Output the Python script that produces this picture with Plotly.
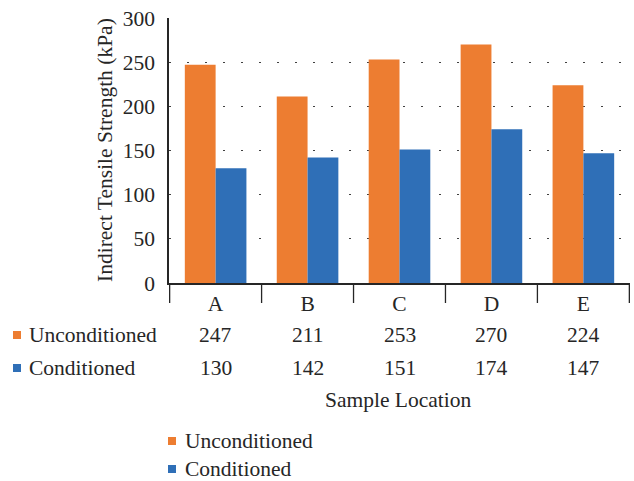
import plotly.graph_objects as go

# Indirect tensile strength by sample location
locations = ["A", "B", "C", "D", "E"]
unconditioned = [247, 211, 253, 270, 224]
conditioned = [130, 142, 151, 174, 147]
series_names = ["Unconditioned", "Conditioned"]
series_colors = ["#ED7D31", "#2F6FB7"]
y_ticks = [0, 50, 100, 150, 200, 250, 300]

FONT = "'Liberation Serif', 'Times New Roman', 'DejaVu Serif', serif"
TXT = "#262626"
FS = 21.5

W, H = 634, 481
L, R, T, B = 169, 4, 18, 198
pw, ph = W - L - R, H - T - B


def px_x(p):
    return (p - L) / pw


def px_y(p):
    return (H - B - p) / ph


fig = go.Figure()
for name, vals, col in zip(series_names, [unconditioned, conditioned], series_colors):
    fig.add_trace(go.Bar(x=locations, y=vals, name=name, marker_color=col,
                         marker_line_width=0, showlegend=False))

shapes = []
annotations = []

# category boundary ticks below the axis
for i in range(len(locations) + 1):
    shapes.append(dict(type="line", xref="x", yref="paper",
                       x0=i - 0.5, x1=i - 0.5, y0=0, y1=px_y(303),
                       line=dict(color=TXT, width=1.3)))

# data table rows
row_y = [335, 368]
for name, vals, col, ry in zip(series_names, [unconditioned, conditioned], series_colors, row_y):
    shapes.append(dict(type="rect", xref="paper", yref="paper",
                       x0=px_x(13), x1=px_x(21), y0=px_y(ry + 4), y1=px_y(ry - 4),
                       fillcolor=col, line_width=0))
    annotations.append(dict(text=name, xref="paper", yref="paper", x=px_x(27), y=px_y(ry),
                            xanchor="left", yanchor="middle", showarrow=False))
    for loc, v in zip(locations, vals):
        annotations.append(dict(text=str(v), xref="x", yref="paper", x=loc, y=px_y(ry),
                                xanchor="center", yanchor="middle", showarrow=False))

# axis titles
annotations.append(dict(text="Sample Location", xref="paper", yref="paper",
                        x=px_x(398), y=px_y(400), xanchor="center", yanchor="middle",
                        showarrow=False))
annotations.append(dict(text="Indirect Tensile Strength (kPa)", xref="paper", yref="paper",
                        x=px_x(105), y=px_y(150), xanchor="center", yanchor="middle",
                        textangle=-90, showarrow=False))

# legend below the chart
leg_y = [441, 469]
for name, col, ly in zip(series_names, series_colors, leg_y):
    shapes.append(dict(type="rect", xref="paper", yref="paper",
                       x0=px_x(168), x1=px_x(176), y0=px_y(ly + 4), y1=px_y(ly - 4),
                       fillcolor=col, line_width=0))
    annotations.append(dict(text=name, xref="paper", yref="paper", x=px_x(183), y=px_y(ly),
                            xanchor="left", yanchor="middle", showarrow=False))

fig.update_layout(
    width=W, height=H,
    margin=dict(l=L, r=R, t=T, b=B),
    paper_bgcolor="white", plot_bgcolor="white",
    font=dict(family=FONT, size=FS, color=TXT),
    barmode="group", bargap=0.33, bargroupgap=0,
    shapes=shapes, annotations=annotations,
    showlegend=False,
)
fig.update_xaxes(showline=True, linecolor=TXT, linewidth=1.5, showgrid=False,
                 ticks="", zeroline=False)
fig.update_yaxes(range=[0, 300], tickvals=y_ticks, showline=True, linecolor=TXT,
                 linewidth=1.5, showgrid=True, gridcolor="#404040", gridwidth=1.2,
                 griddash="1.5px,16.5px", zeroline=False, ticks="", ticklabelstandoff=8)

fig.write_html("out.html")
